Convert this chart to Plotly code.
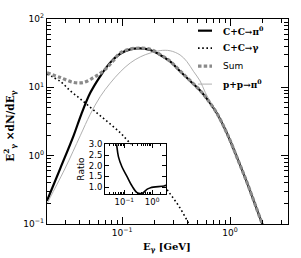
import plotly.graph_objects as go
import numpy as np

# ---- data ----
E_cc_pi0 = [0.0201, 0.0267, 0.0354, 0.0417, 0.0506, 0.0625, 0.0774, 0.0958, 0.1186, 0.147,
            0.182, 0.225, 0.278, 0.344, 0.427, 0.527, 0.608, 0.753, 0.9, 1.0, 1.153, 1.43, 1.99, 2.61]
V_cc_pi0 = [0.219, 0.653, 1.95, 4.0, 8.3, 14.5, 23.0, 31.0, 35.9, 37.1,
            35.1, 29.8, 23.9, 17.2, 12.4, 8.96, 6.82, 4.18, 2.42, 1.67, 0.96, 0.41, 0.1, 0.035]

E_cc_gamma = [0.0201, 0.0267, 0.033, 0.0408, 0.0506, 0.0625, 0.0774, 0.0958, 0.114, 0.15,
              0.2, 0.26, 0.34, 0.43, 0.5]
V_cc_gamma = [15.6, 12.2, 8.9, 6.8, 5.1, 3.85, 2.91, 2.17, 1.62, 1.0,
              0.576, 0.32, 0.176, 0.09, 0.055]

E_sum = [0.0201, 0.0267, 0.0354, 0.0439, 0.0542, 0.0625, 0.0721, 0.0826, 0.0958, 0.1186, 0.147,
         0.182, 0.225, 0.278, 0.344, 0.427, 0.527, 0.608, 0.753, 0.9, 1.0, 1.153, 1.43, 1.99, 2.61]
V_sum = [16.4, 13.9, 11.8, 11.8, 13.9, 16.0, 19.3, 24.5, 31.8, 36.3, 37.4,
         36.0, 30.2, 24.1, 17.4, 12.5, 9.0, 6.85, 4.2, 2.42, 1.67, 0.96, 0.41, 0.1, 0.035]

E_pp = [0.0201, 0.0215, 0.0296, 0.0408, 0.0506, 0.0625, 0.0774, 0.0958, 0.1186, 0.147, 0.182,
        0.225, 0.278, 0.344, 0.397, 0.457, 0.527, 0.587, 0.653, 0.753, 0.9, 1.0, 1.153, 1.43, 1.99, 2.61]
V_pp = [0.197, 0.244, 0.653, 1.95, 4.04, 7.29, 11.5, 16.8, 22.7, 27.9, 31.8,
        34.5, 34.3, 29.8, 23.9, 17.2, 12.4, 8.5, 6.2, 4.18, 2.42, 1.67, 0.96, 0.41, 0.1, 0.035]

E_ratio = [0.045, 0.052, 0.0614, 0.0817, 0.124, 0.189, 0.288, 0.44, 0.668, 0.88, 2.7, 3.4]
V_ratio = [3.6, 3.05, 2.41, 1.95, 1.5, 1.05, 0.74, 0.71, 0.9, 0.97, 1.05, 1.09]

x_tickvals = [0.1, 1]
x_ticktext = ["10<sup>−1</sup>", "10<sup>0</sup>"]
y_tickvals = [0.1, 1, 10, 100]
y_ticktext = ["10<sup>−1</sup>", "10<sup>0</sup>", "10<sup>1</sup>", "10<sup>2</sup>"]
ratio_tickvals = [1.0, 1.5, 2.0, 2.5, 3.0]
ratio_ticktext = ["1.0", "1.5", "2.0", "2.5", "3.0"]

legend_labels = ["<b>C+C→π<sup>0</sup></b>", "<b>C+C→γ</b>", "Sum", "<b>p+p→π<sup>0</sup></b>"]

# ---- styles ----
W, H = 301, 258
ML, MR, MT, MB = 47, 13, 13, 34
PW, PH = W - ML - MR, H - MT - MB

def px2paper(x, y):
    return (x - ML) / PW, (H - MB - y) / PH

styles = [
    dict(color="black", width=2.2, dash="solid"),
    dict(color="black", width=1.6, dash="1.6px,2.6px"),
    dict(color="#8a8a8a", width=3.2, dash="3.5px,2.2px"),
    dict(color="#b0b0b0", width=1.0, dash="solid"),
]

minor_x = [v * 10.0 ** d for d in (-2, -1, 0) for v in range(2, 10)]
minor_x = [v for v in minor_x if 0.02 <= v <= 3.5]
minor_y = [v * 10.0 ** d for d in (-1, 0, 1) for v in range(2, 10)]

fig = go.Figure()

series = [(E_cc_pi0, V_cc_pi0), (E_cc_gamma, V_cc_gamma), (E_pp, V_pp), (E_sum, V_sum)]
order_styles = [styles[0], styles[1], styles[3], styles[2]]
for (ex, vy), st in zip(series, order_styles):
    fig.add_trace(go.Scatter(x=ex, y=vy, mode="lines", line=st, showlegend=False,
                             xaxis="x", yaxis="y", line_shape="spline", hoverinfo="skip"))

fig.add_trace(go.Scatter(x=E_ratio, y=V_ratio, mode="lines", line=dict(color="black", width=1.6),
                         showlegend=False, xaxis="x2", yaxis="y2", line_shape="spline", hoverinfo="skip"))

tickfont = dict(family="DejaVu Sans", size=9, color="black")
axcommon = dict(showline=True, linecolor="black", linewidth=1.4, mirror="allticks", ticks="inside",
                ticklen=7, tickwidth=1.2, tickcolor="black", showgrid=False, zeroline=False,
                tickfont=tickfont)

fig.update_layout(
    width=W, height=H, margin=dict(l=ML, r=MR, t=MT, b=MB),
    paper_bgcolor="white", plot_bgcolor="white",
    xaxis=dict(type="log", range=[np.log10(0.0201), np.log10(3.44)], tickmode="array",
               tickvals=x_tickvals, ticktext=x_ticktext,
               minor=dict(tickvals=minor_x, ticks="inside", ticklen=3.5, tickwidth=1, tickcolor="black"),
               **axcommon),
    yaxis=dict(type="log", range=[-1, 2], tickmode="array", tickvals=y_tickvals, ticktext=y_ticktext,
               minor=dict(tickvals=minor_y, ticks="inside", ticklen=3.5, tickwidth=1, tickcolor="black"),
               **axcommon),
)

ix0, iy0 = px2paper(105, 193)
ix1, iy1 = px2paper(166, 142)
inset_ax = dict(axcommon)
inset_ax.update(linewidth=1.0, ticklen=4, tickwidth=0.8,
                tickfont=dict(family="DejaVu Sans", size=8.5, color="black"))
fig.update_layout(
    xaxis2=dict(type="log", domain=[ix0, ix1], anchor="y2", range=[np.log10(0.0201), 0.5],
                tickmode="array", tickvals=x_tickvals, ticktext=x_ticktext,
                minor=dict(tickvals=minor_x, ticks="inside", ticklen=2, tickwidth=0.6, tickcolor="black"),
                **inset_ax),
    yaxis2=dict(domain=[iy0, iy1], anchor="x2", range=[0.68, 3.0], tickmode="array",
                tickvals=ratio_tickvals, ticktext=ratio_ticktext,
                title=dict(text="Ratio", font=dict(family="DejaVu Sans", size=9, color="black"), standoff=2),
                **inset_ax),
)

# legend (manual)
leg_y = [25, 43, 61.5, 80]
for lab, st, yy in zip(legend_labels, styles, leg_y):
    x0, y0 = px2paper(198, yy)
    x1, _ = px2paper(212, yy)
    fig.add_shape(type="line", xref="paper", yref="paper", x0=x0, x1=x1, y0=y0, y1=y0,
                  line=st)
    tx, _ = px2paper(221, yy)
    fam = "DejaVu Sans" if lab == "Sum" else "DejaVu Serif"
    fig.add_annotation(xref="paper", yref="paper", x=tx, y=y0, text=lab, showarrow=False,
                       xanchor="left", yanchor="middle", font=dict(family=fam, size=9, color="black"))

# axis titles
xt, yt = px2paper(167, 248)
fig.add_annotation(xref="paper", yref="paper", x=xt, y=yt, showarrow=False,
                   text="<b>E<sub>γ</sub> [GeV]</b>", xanchor="center", yanchor="middle",
                   font=dict(family="DejaVu Serif", size=10, color="black"))
xt, yt = px2paper(10, 123)
fig.add_annotation(xref="paper", yref="paper", x=xt, y=yt, showarrow=False, textangle=-90,
                   text="<b>E<sup>2</sup><sub>γ</sub> ×dN/dE<sub>γ</sub></b>", xanchor="center", yanchor="middle",
                   font=dict(family="DejaVu Serif", size=10.5, color="black"))

fig.write_html("out.html", config={"displayModeBar": False},
               post_script="document.body.style.margin='0px';")
